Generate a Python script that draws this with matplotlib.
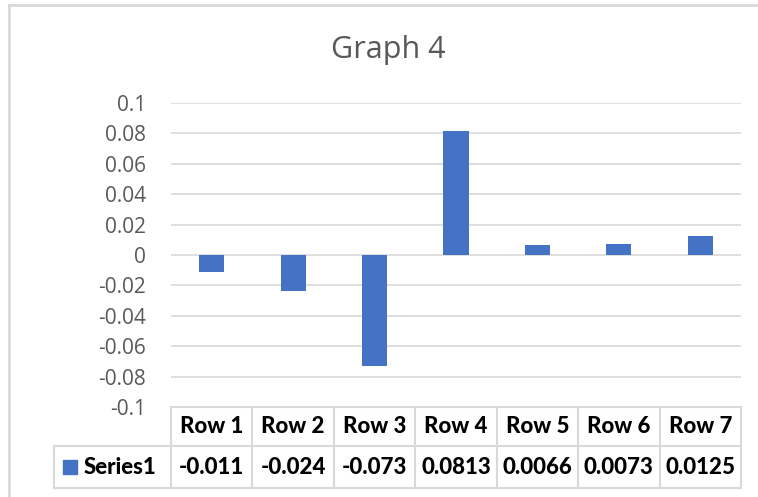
import matplotlib.pyplot as plt
from matplotlib.lines import Line2D
from matplotlib.patches import Rectangle

rows = ['Row 1', 'Row 2', 'Row 3', 'Row 4', 'Row 5', 'Row 6', 'Row 7']
series1 = [-0.011, -0.024, -0.073, 0.0813, 0.0066, 0.0073, 0.0125]
series1_text = ['-0.011', '-0.024', '-0.073', '0.0813', '0.0066', '0.0073', '0.0125']
yticks = [-0.1, -0.08, -0.06, -0.04, -0.02, 0, 0.02, 0.04, 0.06, 0.08, 0.1]
ytick_labels = ['-0.1', '-0.08', '-0.06', '-0.04', '-0.02', '0',
                '0.02', '0.04', '0.06', '0.08', '0.1']

W, H = 758, 497
bar_color = '#4472C4'
grid_color = '#D9D9D9'
text_gray = '#595959'

fig = plt.figure(figsize=(W / 100, H / 100), dpi=100)


def fx(px):
    return px / W


def fy(py):
    return 1 - py / H


ax = fig.add_axes([fx(171), fy(407), fx(741) - fx(171), fy(103) - fy(407)])
x = list(range(len(rows)))
ax.bar(x, series1, width=0.31, color=bar_color, zorder=3)
ax.set_xlim(-0.5, len(rows) - 0.5)
ax.set_ylim(-0.1, 0.1)
ax.set_yticks(yticks)
ax.set_yticklabels(ytick_labels, fontsize=15, color=text_gray, family='Open Sans')
ax.set_xticks([])
ax.tick_params(axis='y', length=0, pad=18)
ax.grid(axis='y', color=grid_color, linewidth=1.2, zorder=0)
for s in ax.spines.values():
    s.set_visible(False)

fig.text(fx(388), fy(50), 'Graph 4', ha='center', va='center', fontsize=22,
         color=text_gray, family='Open Sans')

# chart border (top and left edges)
fig.add_artist(Line2D([fx(8.5), 1], [fy(5), fy(5)], color=grid_color, lw=2))
fig.add_artist(Line2D([fx(8.5), fx(8.5)], [fy(5), 0], color=grid_color, lw=2))

# data table under the plot
col_edges = [171 + i * (741 - 171) / len(rows) for i in range(len(rows) + 1)]
y_top, y_mid, y_bot = 407, 446, 488
lc = '#D9D9D9'
lw = 1.5
fig.add_artist(Line2D([fx(171), fx(741)], [fy(y_top)] * 2, color=lc, lw=lw))
fig.add_artist(Line2D([fx(54), fx(741)], [fy(y_mid)] * 2, color=lc, lw=lw))
fig.add_artist(Line2D([fx(54), fx(741)], [fy(y_bot)] * 2, color=lc, lw=lw))
fig.add_artist(Line2D([fx(54), fx(54)], [fy(y_mid), fy(y_bot)], color=lc, lw=lw))
for e in col_edges:
    fig.add_artist(Line2D([fx(e), fx(e)], [fy(y_top), fy(y_bot)], color=lc, lw=lw))

cell_font = dict(fontsize=16, fontweight=900, family='Lato', color='black')
for i, (r, v) in enumerate(zip(rows, series1_text)):
    cx = (col_edges[i] + col_edges[i + 1]) / 2
    fig.text(fx(cx), fy((y_top + y_mid) / 2), r, ha='center', va='center', **cell_font)
    fig.text(fx(cx), fy((y_mid + y_bot) / 2), v, ha='center', va='center', **cell_font)

fig.add_artist(Rectangle((fx(63), fy(474)), fx(14), 14 / H, color=bar_color))
fig.text(fx(84), fy(467), 'Series1', ha='left', va='center', **cell_font)

fig.savefig('out.png', dpi=100)
